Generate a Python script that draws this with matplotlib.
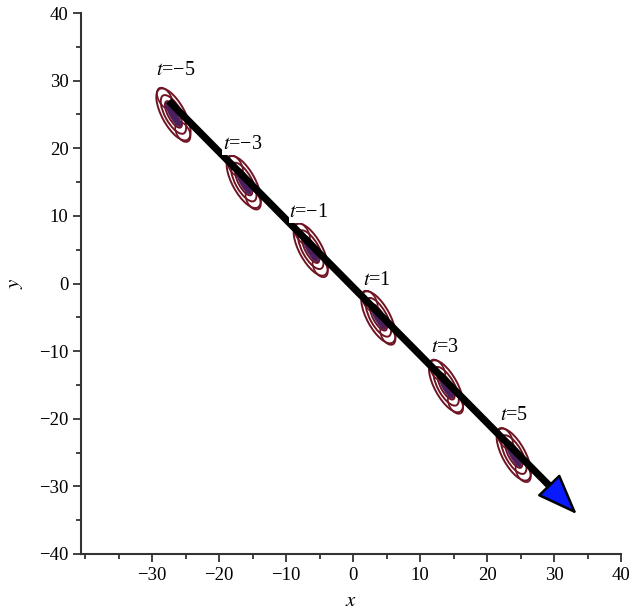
import matplotlib
matplotlib.use("Agg")
import matplotlib.pyplot as plt
from matplotlib.patches import Ellipse

# ---- data ----
t_values = [-5, -3, -1, 1, 3, 5]
t_labels = ["\u2212" + str(abs(t)) if t < 0 else str(t) for t in t_values]
cluster_x = [-26.8, -16.3, -6.3, 3.8, 13.9, 24.0]
cluster_y = [25.0, 15.0, 5.0, -5.0, -15.2, -25.3]
label_x = [-29.4, -19.4, -9.5, 1.5, 11.7, 21.9]
label_y = [31.5, 20.5, 10.5, 0.5, -9.5, -19.5]
# nested loop sizes (major, minor) in data units
loop_major = [8.6, 6.4, 4.4]
loop_minor = [3.4, 2.5, 1.6]
arrow_start = (-27.5, 27.0)
arrow_base = (29.7, -30.3)
arrow_tip = (33.4, -34.1)
x_ticks = [-30, -20, -10, 0, 10, 20, 30, 40]
y_ticks = [-40, -30, -20, -10, 0, 10, 20, 30, 40]

plt.rcParams['font.family'] = ['Liberation Serif', 'DejaVu Serif']
plt.rcParams['mathtext.fontset'] = 'stix'

fig = plt.figure(figsize=(6.32, 6.16), dpi=100)
ax = fig.add_axes([81/632, 1-554/616, (621-81)/632, (554-13)/616])
ax.set_xlim(-40.6, 40)
ax.set_ylim(-40, 40)

maroon = '#6e1423'
purple = '#4a1f5c'
angle = -61
for cx, cy in zip(cluster_x, cluster_y):
    for ma, mi in zip(loop_major, loop_minor):
        ax.add_patch(Ellipse((cx, cy), ma, mi, angle=angle, fill=False,
                             ec=maroon, lw=1.4, zorder=2))
    # upper and lower lobes
    ax.add_patch(Ellipse((cx - 1.3, cy + 2.4), 3.4, 1.9, angle=angle, fill=False,
                         ec=maroon, lw=1.2, zorder=2))
    ax.add_patch(Ellipse((cx + 1.4, cy - 2.6), 3.2, 1.9, angle=angle, fill=False,
                         ec=maroon, lw=1.2, zorder=2))
    ax.add_patch(Ellipse((cx, cy), 4.0, 1.1, angle=angle, fc=purple,
                         ec=purple, lw=0.8, zorder=2))

# shaft
ax.plot([arrow_start[0], arrow_base[0]], [arrow_start[1], arrow_base[1]],
        color='black', lw=5.2, solid_capstyle='butt', zorder=3)
# head
ax.annotate('', xy=arrow_tip, xytext=arrow_base,
            arrowprops=dict(arrowstyle='-|>,head_length=1.3,head_width=0.5',
                            fc='#0a1aff', ec='black', lw=1.8, mutation_scale=20,
                            shrinkA=0, shrinkB=0),
            zorder=4)

for lx, ly, lab in zip(label_x, label_y, t_labels):
    ax.text(lx, ly, '$t$=' + lab, fontsize=14.5, ha='left', va='center',
            zorder=5, bbox=dict(fc='white', ec='none', pad=0.5))

for s in ['top', 'right']:
    ax.spines[s].set_visible(False)
for s in ['left', 'bottom']:
    ax.spines[s].set_color('#333333')
    ax.spines[s].set_linewidth(1.5)

ax.set_xticks(x_ticks)
ax.set_yticks(y_ticks)
ax.set_xticklabels([("\u2212" + str(-v)) if v < 0 else str(v) for v in x_ticks])
ax.set_yticklabels([("\u2212" + str(-v)) if v < 0 else str(v) for v in y_ticks])
ax.set_xticks(list(range(-40, 41, 5)), minor=True)
ax.set_yticks(list(range(-40, 41, 5)), minor=True)
ax.tick_params(which='major', length=6, width=1.3, color='#333333', labelsize=13.5, pad=3)
ax.tick_params(which='minor', length=3.5, width=1.3, color='#333333')

ax.set_xlabel('$x$', fontsize=15, labelpad=6)
ax.set_ylabel('$y$', fontsize=15, labelpad=10)

fig.savefig('out.png', dpi=100)
